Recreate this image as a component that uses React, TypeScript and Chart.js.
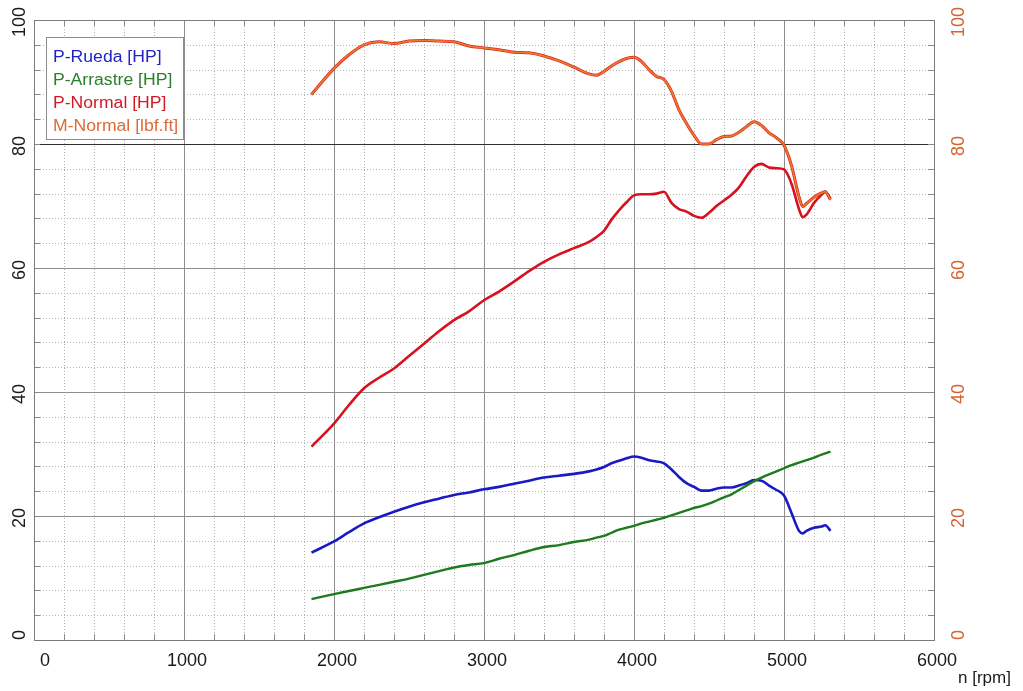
import React, { useEffect, useRef } from 'react';
import { Chart, registerables } from 'chart.js';

Chart.register(...registerables);

// ---- data ----
const rpm = [
  1850, 2000, 2100, 2200, 2300, 2400, 2500, 2600, 2700, 2800, 2900, 3000, 3100, 3200, 3300, 3400, 3500, 3600,
  3700, 3750, 3800, 3850, 3900, 3950, 4000, 4050, 4100, 4150, 4200, 4250, 4300, 4350, 4400, 4450, 4500, 4550,
  4600, 4650, 4700, 4750, 4800, 4850, 4900, 4950, 5000, 5050, 5100, 5125, 5150, 5200, 5250, 5275, 5310,
];

const mNormal = [
  88.0, 92.2, 94.4, 96.0, 96.5, 96.2, 96.6, 96.7, 96.6, 96.5, 95.8, 95.5, 95.2, 94.8, 94.7, 94.2, 93.4, 92.4,
  91.3, 91.1, 91.7, 92.6, 93.3, 93.8, 94.0, 93.3, 92.0, 90.9, 90.4, 88.5, 85.5, 83.3, 81.4, 80.0, 80.0, 80.7,
  81.2, 81.3, 81.9, 82.8, 83.6, 83.0, 81.8, 81.0, 79.8, 76.5, 71.5, 69.9, 70.4, 71.4, 72.1, 72.3, 71.0,
];

const pNormal = [
  31.2, 34.9, 37.9, 40.6, 42.3, 43.8, 45.8, 47.8, 49.8, 51.6, 53.0, 54.8, 56.2, 57.8, 59.5, 61.0, 62.2, 63.2,
  64.2, 65.0, 66.0, 67.8, 69.3, 70.6, 71.7, 71.9, 71.9, 72.0, 72.3, 70.5, 69.5, 69.1, 68.4, 68.1, 68.9, 70.0,
  70.9, 71.8, 73.0, 74.8, 76.3, 76.8, 76.2, 76.1, 75.9, 73.6, 69.5, 68.2, 68.6, 70.5, 71.8, 72.3, 71.2,
];

const pRueda = [
  14.1, 15.9, 17.4, 18.8, 19.8, 20.7, 21.5, 22.2, 22.8, 23.4, 23.8, 24.3, 24.7, 25.2, 25.7, 26.2, 26.5, 26.8,
  27.2, 27.5, 27.9, 28.5, 28.9, 29.3, 29.6, 29.4, 29.0, 28.8, 28.5, 27.5, 26.3, 25.3, 24.7, 24.1, 24.1, 24.4,
  24.6, 24.6, 24.9, 25.3, 25.8, 25.7, 24.9, 24.2, 23.3, 20.5, 17.6, 17.2, 17.6, 18.1, 18.3, 18.5, 17.6,
];

const pArrastre = [
  6.6, 7.4, 7.9, 8.4, 8.9, 9.4, 9.9, 10.5, 11.1, 11.7, 12.1, 12.4, 13.1, 13.7, 14.4, 15.0, 15.3, 15.8,
  16.2, 16.5, 16.8, 17.3, 17.8, 18.1, 18.4, 18.8, 19.1, 19.4, 19.7, 20.1, 20.5, 20.9, 21.3, 21.6, 22.0, 22.5,
  23.0, 23.5, 24.2, 24.9, 25.6, 26.2, 26.7, 27.2, 27.7, 28.2, 28.6, 28.8, 29.0, 29.4, 29.9, 30.1, 30.4,
];

const xTicks = [0, 1000, 2000, 3000, 4000, 5000, 6000];
const yTicks = [0, 20, 40, 60, 80, 100];
const xTitle = 'n [rpm]';
const legendLabels = ['P-Rueda [HP]', 'P-Arrastre [HP]', 'P-Normal [HP]', 'M-Normal [lbf.ft]'];
const legendColors = ['#2222c8', '#2a7d2a', '#d21a24', '#dd6a3a'];

const FONT = '"Liberation Sans", Arial, sans-serif';

function pts(vals: number[]) {
  return rpm.map((x, i) => ({ x, y: vals[i] }));
}

const gridPlugin = {
  id: 'dynoGrid',
  beforeDatasetsDraw(chart: any) {
    const { ctx, chartArea } = chart;
    const { left, right, top, bottom } = chartArea;
    const xs = chart.scales.x;
    const ys = chart.scales.y;
    const px = (v: number) => Math.round(xs.getPixelForValue(v)) + 0.5;
    const py = (v: number) => Math.round(ys.getPixelForValue(v)) + 0.5;
    ctx.save();
    ctx.lineWidth = 1;
    // minor dotted
    ctx.strokeStyle = '#b4b4b4';
    ctx.setLineDash([1, 2]);
    for (let v = 200; v < 6000; v += 200) {
      if (v % 1000 === 0) continue;
      ctx.beginPath();
      ctx.moveTo(px(v), top);
      ctx.lineTo(px(v), bottom);
      ctx.stroke();
    }
    for (let v = 4; v < 100; v += 4) {
      if (v % 20 === 0) continue;
      ctx.beginPath();
      ctx.moveTo(left, py(v));
      ctx.lineTo(right, py(v));
      ctx.stroke();
    }
    ctx.setLineDash([]);
    // major
    ctx.strokeStyle = '#8e8e8e';
    for (let v = 1000; v < 6000; v += 1000) {
      ctx.beginPath();
      ctx.moveTo(px(v), top);
      ctx.lineTo(px(v), bottom);
      ctx.stroke();
    }
    for (let v = 20; v < 100; v += 20) {
      ctx.strokeStyle = v === 80 ? '#303030' : '#8e8e8e';
      ctx.beginPath();
      ctx.moveTo(left, py(v));
      ctx.lineTo(right, py(v));
      ctx.stroke();
    }
    // edge ticks
    ctx.strokeStyle = '#8a8a8a';
    const tl = 6;
    for (let v = 200; v < 6000; v += 200) {
      ctx.beginPath();
      ctx.moveTo(px(v), bottom);
      ctx.lineTo(px(v), bottom - tl);
      ctx.moveTo(px(v), top);
      ctx.lineTo(px(v), top + tl);
      ctx.stroke();
    }
    for (let v = 4; v < 100; v += 4) {
      ctx.beginPath();
      ctx.moveTo(left, py(v));
      ctx.lineTo(left + tl, py(v));
      ctx.moveTo(right, py(v));
      ctx.lineTo(right - tl, py(v));
      ctx.stroke();
    }
    // frame
    ctx.strokeStyle = '#7a7a7a';
    ctx.strokeRect(Math.round(left) + 0.5, Math.round(top) + 0.5, Math.round(right - left), Math.round(bottom - top));
    ctx.restore();
  },
  afterDraw(chart: any) {
    const { ctx, chartArea } = chart;
    const xs = chart.scales.x;
    const ys = chart.scales.y;
    const ys2 = chart.scales.y2;
    ctx.save();
    ctx.font = `18px ${FONT}`;
    ctx.textBaseline = 'middle';
    // x tick labels
    ctx.fillStyle = '#1a1a1a';
    xTicks.forEach((v) => {
      const x = xs.getPixelForValue(v);
      if (v === 0) {
        ctx.textAlign = 'left';
        ctx.fillText(String(v), x + 6, 661);
      } else {
        ctx.textAlign = 'center';
        ctx.fillText(String(v), x + 3, 661);
      }
    });
    // y tick labels (rotated)
    ctx.textAlign = 'center';
    yTicks.forEach((v) => {
      const y = v === 0 ? ys.getPixelForValue(v) - 5 : ys.getPixelForValue(v) + 2;
      ctx.save();
      ctx.fillStyle = '#1a1a1a';
      ctx.translate(20, y);
      ctx.rotate(-Math.PI / 2);
      ctx.fillText(String(v), 0, 0);
      ctx.restore();
      const y2 = v === 0 ? ys2.getPixelForValue(v) - 5 : ys2.getPixelForValue(v) + 2;
      ctx.save();
      ctx.fillStyle = '#d4632e';
      ctx.translate(chartArea.right + 25, y2);
      ctx.rotate(-Math.PI / 2);
      ctx.fillText(String(v), 0, 0);
      ctx.restore();
    });
    // axis title
    ctx.fillStyle = '#1a1a1a';
    ctx.font = `17px ${FONT}`;
    ctx.textAlign = 'left';
    ctx.fillText(xTitle, 958, 678);
    // legend
    ctx.fillStyle = '#ffffff';
    ctx.fillRect(46, 37, 137, 102);
    ctx.strokeStyle = '#8c8c8c';
    ctx.lineWidth = 1;
    ctx.strokeRect(46.5, 37.5, 137, 102);
    ctx.font = `16px ${FONT}`;
    legendLabels.forEach((lab, i) => {
      ctx.save();
      ctx.fillStyle = legendColors[i];
      ctx.translate(53, 58 + i * 23);
      ctx.scale(1.1, 1);
      ctx.textAlign = 'left';
      ctx.fillText(lab, 0, 0);
      ctx.restore();
    });
    ctx.restore();
  },
};

export default function App() {
  const ref = useRef<HTMLCanvasElement | null>(null);
  useEffect(() => {
    document.body.style.margin = '0';
    const canvas = ref.current;
    if (!canvas) return;
    const common = { pointRadius: 0, fill: false, cubicInterpolationMode: 'monotone' as const };
    const chart = new Chart(canvas, {
      type: 'line',
      data: {
        datasets: [
          { ...common, label: 'M-Normal [lbf.ft]', data: pts(mNormal), yAxisID: 'y2', borderColor: '#ee7a30', borderWidth: 1.6, order: 0 },
          { ...common, label: 'M-Normal (trace)', data: pts(mNormal), yAxisID: 'y2', borderColor: '#d82a1c', borderWidth: 3, order: 1 },
          { ...common, label: 'P-Normal [HP]', data: pts(pNormal), yAxisID: 'y', borderColor: '#d6121e', borderWidth: 2.6, order: 2 },
          { ...common, label: 'P-Arrastre [HP]', data: pts(pArrastre), yAxisID: 'y', borderColor: '#1d7a1d', borderWidth: 2.4, order: 3 },
          { ...common, label: 'P-Rueda [HP]', data: pts(pRueda), yAxisID: 'y', borderColor: '#1a1ac4', borderWidth: 2.6, order: 4 },
        ],
      },
      options: {
        responsive: false,
        animation: false,
        layout: { padding: { top: 20, left: 0, right: 0, bottom: 0 } },
        plugins: { legend: { display: false }, tooltip: { enabled: false } },
        scales: {
          x: {
            type: 'linear',
            min: 0,
            max: 6000,
            ticks: { display: false },
            grid: { display: false },
            border: { display: false },
            afterFit: (s: any) => {
              s.height = 51;
              s.paddingLeft = 0;
              s.paddingRight = 0;
            },
          },
          y: {
            position: 'left',
            min: 0,
            max: 100,
            ticks: { display: false },
            grid: { display: false },
            border: { display: false },
            afterFit: (s: any) => {
              s.width = 34;
              s.paddingTop = 0;
              s.paddingBottom = 0;
            },
          },
          y2: {
            position: 'right',
            min: 0,
            max: 100,
            ticks: { display: false },
            grid: { display: false },
            border: { display: false },
            afterFit: (s: any) => {
              s.width = 89;
              s.paddingTop = 0;
              s.paddingBottom = 0;
            },
          },
        },
      },
      plugins: [gridPlugin],
    });
    return () => chart.destroy();
  }, []);
  return (
    <div style={{ width: 1023, height: 691, background: '#ffffff' }}>
      <canvas ref={ref} width={1023} height={691} style={{ display: 'block' }} />
    </div>
  );
}
